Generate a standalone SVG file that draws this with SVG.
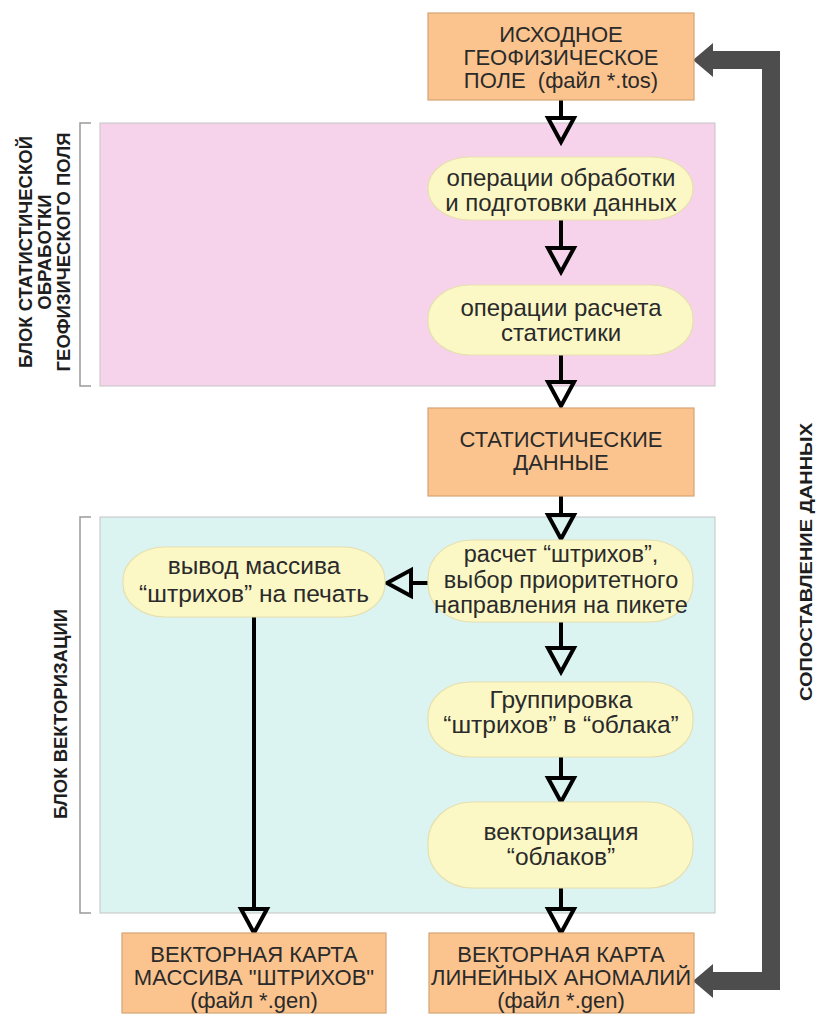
<svg xmlns="http://www.w3.org/2000/svg" width="816" height="1019" viewBox="0 0 816 1019">
<style>
.blk{stroke:#c4c4c4;stroke-width:1}
.pink{fill:#f6d3ea}
.cyan{fill:#dbf3f1}
.box{fill:#fbc48f;stroke:#d6a374;stroke-width:1.2}
.ell{fill:#fcf8c6;stroke:#e6dfae;stroke-width:1.2}
.brk{fill:none;stroke:#9a9a9a;stroke-width:1.5}
.t{font-family:"Liberation Sans",Arial,sans-serif;font-size:22px;fill:#2a2a2a;text-anchor:middle}
.e{font-family:"Liberation Sans",Arial,sans-serif;font-size:24.5px;fill:#2a2a2a;text-anchor:middle}
.e2{font-size:24px}
.e3{font-size:23.5px}
.lab{font-family:"Liberation Sans",Arial,sans-serif;font-size:18.5px;font-weight:bold;fill:#1e1e1e;text-anchor:middle}
.con{fill:none;stroke:#000;stroke-width:4}
.gray{fill:none;stroke:#4d4d4d;stroke-width:18;stroke-linejoin:miter}
</style>
<defs>
<marker id="tri" markerUnits="userSpaceOnUse" viewBox="-4 -18 32 36" refX="0" refY="0" markerWidth="32" markerHeight="36" orient="auto" overflow="visible">
<path d="M0,-13 L24,0 L0,13 Z" fill="none" stroke="#000" stroke-width="4" stroke-linejoin="miter"/>
</marker>
<marker id="ghead" markerUnits="userSpaceOnUse" viewBox="-2 -19 24 38" refX="0" refY="0" markerWidth="24" markerHeight="38" orient="auto-start-reverse" overflow="visible">
<path d="M-1,-17 L19,0 L-1,17 Z" fill="#4d4d4d"/>
</marker>
</defs>
<rect width="816" height="1019" fill="#fff"/>

<g id="block-stat">
<rect class="blk pink" x="100" y="123" width="615" height="263"/>
<path class="brk" d="M91,123 H80 V386 H91"/>
<text class="lab" transform="translate(32,252) rotate(-90)">БЛОК СТАТИСТИЧЕСКОЙ</text>
<text class="lab" transform="translate(51,252) rotate(-90)">ОБРАБОТКИ</text>
<text class="lab" transform="translate(70,252) rotate(-90)">ГЕОФИЗИЧЕСКОГО ПОЛЯ</text>
</g>
<g id="block-vector">
<rect class="blk cyan" x="100" y="517" width="615" height="396"/>
<path class="brk" d="M91,517 H80 V913 H91"/>
<text class="lab" transform="translate(67,714) rotate(-90)">БЛОК ВЕКТОРИЗАЦИИ</text>
</g>

<g id="connectors">
<path class="con" d="M561,100 V118" marker-end="url(#tri)"/>
<path class="con" d="M561,220 V248" marker-end="url(#tri)"/>
<path class="con" d="M561,355 V382" marker-end="url(#tri)"/>
<path class="con" d="M561,496 V515" marker-end="url(#tri)"/>
<path class="con" d="M428,583 H411" marker-end="url(#tri)"/>
<path class="con" d="M561,622 V648" marker-end="url(#tri)"/>
<path class="con" d="M561,757 V778" marker-end="url(#tri)"/>
<path class="con" d="M561,888 V909" marker-end="url(#tri)"/>
<path class="con" d="M254,617 V909" marker-end="url(#tri)"/>
<path class="gray" d="M712,60 H771 V981 H712" marker-start="url(#ghead)" marker-end="url(#ghead)"/>
<text class="lab" transform="translate(812,562) rotate(-90)" textLength="278" lengthAdjust="spacingAndGlyphs" style="font-size:16px">СОПОСТАВЛЕНИЕ ДАННЫХ</text>
</g>

<g id="src-field">
<rect class="box" x="428" y="13" width="266" height="87"/>
<text class="t" x="561" y="42">ИСХОДНОЕ</text>
<text class="t" x="561" y="65">ГЕОФИЗИЧЕСКОЕ</text>
<text class="t" x="561" y="88" xml:space="preserve">ПОЛЕ  (файл *.tos)</text>
</g>
<g id="prep">
<rect class="ell" x="428" y="157" width="265" height="63" rx="42" ry="31"/>
<text class="e e2" x="561" y="185.5">операции обработки</text>
<text class="e e2" x="561" y="210.5">и подготовки данных</text>
</g>
<g id="calc">
<rect class="ell" x="428" y="285" width="265" height="70" rx="42" ry="33"/>
<text class="e e2" x="561" y="316">операции расчета</text>
<text class="e e2" x="561" y="341">статистики</text>
</g>
<g id="stat-data">
<rect class="box" x="428" y="408" width="266" height="88"/>
<text class="t" x="561" y="447">СТАТИСТИЧЕСКИЕ</text>
<text class="t" x="561" y="470">ДАННЫЕ</text>
</g>
<g id="strokes">
<rect class="ell" x="428" y="540" width="265" height="82" rx="44" ry="38"/>
<text class="e e3" x="561" y="562">расчет “штрихов”,</text>
<text class="e e3" x="561" y="588">выбор приоритетного</text>
<text class="e e3" x="561" y="613">направления на пикете</text>
</g>
<g id="print">
<rect class="ell" x="123" y="547" width="262" height="70" rx="42" ry="33"/>
<text class="e" x="254" y="574">вывод массива</text>
<text class="e" x="254" y="602">“штрихов” на печать</text>
</g>
<g id="group">
<rect class="ell" x="428" y="682" width="265" height="75" rx="42" ry="35"/>
<text class="e" x="561" y="708">Группировка</text>
<text class="e" x="561" y="733">“штрихов” в “облака”</text>
</g>
<g id="vectorize">
<rect class="ell" x="428" y="802" width="265" height="86" rx="44" ry="40"/>
<text class="e" x="561" y="840">векторизация</text>
<text class="e" x="561" y="865">“облаков”</text>
</g>
<g id="map-strokes">
<rect class="box" x="122" y="933" width="264" height="80"/>
<text class="t" x="254" y="962">ВЕКТОРНАЯ КАРТА</text>
<text class="t" x="254" y="985">МАССИВА "ШТРИХОВ"</text>
<text class="t" x="254" y="1008">(файл *.gen)</text>
</g>
<g id="map-anomalies">
<rect class="box" x="429" y="933" width="265" height="80"/>
<text class="t" x="561" y="962">ВЕКТОРНАЯ КАРТА</text>
<text class="t" x="561" y="985">ЛИНЕЙНЫХ АНОМАЛИЙ</text>
<text class="t" x="561" y="1008">(файл *.gen)</text>
</g>
</svg>
